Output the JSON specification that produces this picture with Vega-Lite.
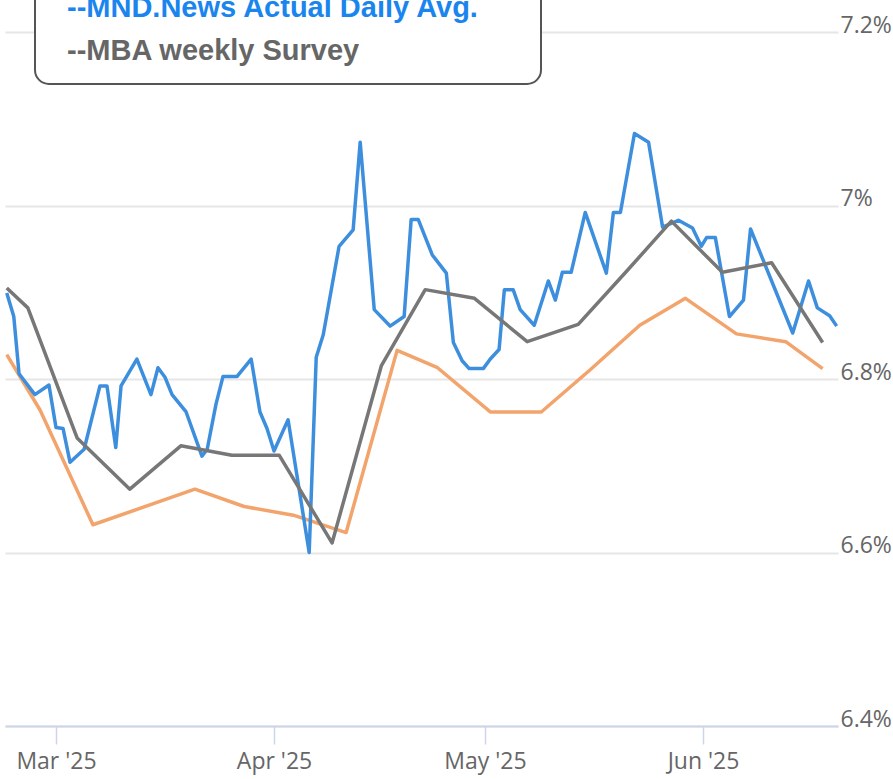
{
  "$schema": "https://vega.github.io/schema/vega-lite/v6.json",
  "width": 833,
  "height": 694,
  "autosize": "none",
  "padding": {"left": 5, "top": 32, "right": 55, "bottom": 53},
  "background": "white",
  "config": {"view": {"stroke": null}, "font": "Open Sans"},
  "data": {
    "values": [
      {"series": "Freddie Mac Weekly Survey", "date": "2025-02-22T00:00", "rate": 6.828},
      {"series": "Freddie Mac Weekly Survey", "date": "2025-02-26T18:00", "rate": 6.764},
      {"series": "Freddie Mac Weekly Survey", "date": "2025-03-06T06:00", "rate": 6.632},
      {"series": "Freddie Mac Weekly Survey", "date": "2025-03-20T18:00", "rate": 6.673},
      {"series": "Freddie Mac Weekly Survey", "date": "2025-03-27T18:00", "rate": 6.653},
      {"series": "Freddie Mac Weekly Survey", "date": "2025-04-03T18:00", "rate": 6.643},
      {"series": "Freddie Mac Weekly Survey", "date": "2025-04-11T06:00", "rate": 6.623},
      {"series": "Freddie Mac Weekly Survey", "date": "2025-04-18T12:00", "rate": 6.833},
      {"series": "Freddie Mac Weekly Survey", "date": "2025-04-24T06:00", "rate": 6.813},
      {"series": "Freddie Mac Weekly Survey", "date": "2025-05-01T18:00", "rate": 6.762},
      {"series": "Freddie Mac Weekly Survey", "date": "2025-05-09T00:00", "rate": 6.762},
      {"series": "Freddie Mac Weekly Survey", "date": "2025-05-16T00:00", "rate": 6.811},
      {"series": "Freddie Mac Weekly Survey", "date": "2025-05-23T00:00", "rate": 6.862},
      {"series": "Freddie Mac Weekly Survey", "date": "2025-05-29T12:00", "rate": 6.893},
      {"series": "Freddie Mac Weekly Survey", "date": "2025-06-05T18:00", "rate": 6.852},
      {"series": "Freddie Mac Weekly Survey", "date": "2025-06-12T18:00", "rate": 6.843},
      {"series": "Freddie Mac Weekly Survey", "date": "2025-06-18T00:00", "rate": 6.812},

      {"series": "MND.News Actual Daily Avg.", "date": "2025-02-22T00:00", "rate": 6.899},
      {"series": "MND.News Actual Daily Avg.", "date": "2025-02-23T00:00", "rate": 6.872},
      {"series": "MND.News Actual Daily Avg.", "date": "2025-02-23T18:00", "rate": 6.806},
      {"series": "MND.News Actual Daily Avg.", "date": "2025-02-26T00:00", "rate": 6.782},
      {"series": "MND.News Actual Daily Avg.", "date": "2025-02-28T00:00", "rate": 6.793},
      {"series": "MND.News Actual Daily Avg.", "date": "2025-03-01T00:00", "rate": 6.744},
      {"series": "MND.News Actual Daily Avg.", "date": "2025-03-02T00:00", "rate": 6.743},
      {"series": "MND.News Actual Daily Avg.", "date": "2025-03-03T00:00", "rate": 6.704},
      {"series": "MND.News Actual Daily Avg.", "date": "2025-03-05T00:00", "rate": 6.719},
      {"series": "MND.News Actual Daily Avg.", "date": "2025-03-07T06:00", "rate": 6.792},
      {"series": "MND.News Actual Daily Avg.", "date": "2025-03-08T06:00", "rate": 6.792},
      {"series": "MND.News Actual Daily Avg.", "date": "2025-03-09T12:00", "rate": 6.721},
      {"series": "MND.News Actual Daily Avg.", "date": "2025-03-10T06:00", "rate": 6.792},
      {"series": "MND.News Actual Daily Avg.", "date": "2025-03-12T12:00", "rate": 6.823},
      {"series": "MND.News Actual Daily Avg.", "date": "2025-03-14T12:00", "rate": 6.782},
      {"series": "MND.News Actual Daily Avg.", "date": "2025-03-15T12:00", "rate": 6.813},
      {"series": "MND.News Actual Daily Avg.", "date": "2025-03-16T12:00", "rate": 6.802},
      {"series": "MND.News Actual Daily Avg.", "date": "2025-03-17T12:00", "rate": 6.782},
      {"series": "MND.News Actual Daily Avg.", "date": "2025-03-19T12:00", "rate": 6.762},
      {"series": "MND.News Actual Daily Avg.", "date": "2025-03-21T18:00", "rate": 6.711},
      {"series": "MND.News Actual Daily Avg.", "date": "2025-03-22T12:00", "rate": 6.719},
      {"series": "MND.News Actual Daily Avg.", "date": "2025-03-23T18:00", "rate": 6.771},
      {"series": "MND.News Actual Daily Avg.", "date": "2025-03-24T18:00", "rate": 6.803},
      {"series": "MND.News Actual Daily Avg.", "date": "2025-03-26T18:00", "rate": 6.803},
      {"series": "MND.News Actual Daily Avg.", "date": "2025-03-28T18:00", "rate": 6.823},
      {"series": "MND.News Actual Daily Avg.", "date": "2025-03-30T00:00", "rate": 6.762},
      {"series": "MND.News Actual Daily Avg.", "date": "2025-03-31T00:00", "rate": 6.743},
      {"series": "MND.News Actual Daily Avg.", "date": "2025-04-01T00:00", "rate": 6.717},
      {"series": "MND.News Actual Daily Avg.", "date": "2025-04-03T00:00", "rate": 6.753},
      {"series": "MND.News Actual Daily Avg.", "date": "2025-04-06T00:00", "rate": 6.600},
      {"series": "MND.News Actual Daily Avg.", "date": "2025-04-07T00:00", "rate": 6.825},
      {"series": "MND.News Actual Daily Avg.", "date": "2025-04-08T00:00", "rate": 6.851},
      {"series": "MND.News Actual Daily Avg.", "date": "2025-04-10T06:00", "rate": 6.953},
      {"series": "MND.News Actual Daily Avg.", "date": "2025-04-12T06:00", "rate": 6.972},
      {"series": "MND.News Actual Daily Avg.", "date": "2025-04-13T06:00", "rate": 7.073},
      {"series": "MND.News Actual Daily Avg.", "date": "2025-04-15T06:00", "rate": 6.880},
      {"series": "MND.News Actual Daily Avg.", "date": "2025-04-17T12:00", "rate": 6.861},
      {"series": "MND.News Actual Daily Avg.", "date": "2025-04-19T12:00", "rate": 6.872},
      {"series": "MND.News Actual Daily Avg.", "date": "2025-04-20T12:00", "rate": 6.984},
      {"series": "MND.News Actual Daily Avg.", "date": "2025-04-21T12:00", "rate": 6.984},
      {"series": "MND.News Actual Daily Avg.", "date": "2025-04-23T12:00", "rate": 6.943},
      {"series": "MND.News Actual Daily Avg.", "date": "2025-04-25T12:00", "rate": 6.922},
      {"series": "MND.News Actual Daily Avg.", "date": "2025-04-26T12:00", "rate": 6.842},
      {"series": "MND.News Actual Daily Avg.", "date": "2025-04-27T18:00", "rate": 6.821},
      {"series": "MND.News Actual Daily Avg.", "date": "2025-04-28T18:00", "rate": 6.812},
      {"series": "MND.News Actual Daily Avg.", "date": "2025-04-30T18:00", "rate": 6.812},
      {"series": "MND.News Actual Daily Avg.", "date": "2025-05-01T18:00", "rate": 6.823},
      {"series": "MND.News Actual Daily Avg.", "date": "2025-05-03T00:00", "rate": 6.834},
      {"series": "MND.News Actual Daily Avg.", "date": "2025-05-03T18:00", "rate": 6.903},
      {"series": "MND.News Actual Daily Avg.", "date": "2025-05-05T00:00", "rate": 6.903},
      {"series": "MND.News Actual Daily Avg.", "date": "2025-05-06T00:00", "rate": 6.880},
      {"series": "MND.News Actual Daily Avg.", "date": "2025-05-08T00:00", "rate": 6.862},
      {"series": "MND.News Actual Daily Avg.", "date": "2025-05-10T00:00", "rate": 6.913},
      {"series": "MND.News Actual Daily Avg.", "date": "2025-05-11T00:00", "rate": 6.891},
      {"series": "MND.News Actual Daily Avg.", "date": "2025-05-12T00:00", "rate": 6.923},
      {"series": "MND.News Actual Daily Avg.", "date": "2025-05-13T06:00", "rate": 6.923},
      {"series": "MND.News Actual Daily Avg.", "date": "2025-05-15T06:00", "rate": 6.992},
      {"series": "MND.News Actual Daily Avg.", "date": "2025-05-18T06:00", "rate": 6.922},
      {"series": "MND.News Actual Daily Avg.", "date": "2025-05-19T06:00", "rate": 6.992},
      {"series": "MND.News Actual Daily Avg.", "date": "2025-05-20T06:00", "rate": 6.992},
      {"series": "MND.News Actual Daily Avg.", "date": "2025-05-22T06:00", "rate": 7.083},
      {"series": "MND.News Actual Daily Avg.", "date": "2025-05-24T06:00", "rate": 7.073},
      {"series": "MND.News Actual Daily Avg.", "date": "2025-05-26T06:00", "rate": 6.975},
      {"series": "MND.News Actual Daily Avg.", "date": "2025-05-28T12:00", "rate": 6.983},
      {"series": "MND.News Actual Daily Avg.", "date": "2025-05-30T12:00", "rate": 6.974},
      {"series": "MND.News Actual Daily Avg.", "date": "2025-05-31T18:00", "rate": 6.953},
      {"series": "MND.News Actual Daily Avg.", "date": "2025-06-01T12:00", "rate": 6.963},
      {"series": "MND.News Actual Daily Avg.", "date": "2025-06-02T18:00", "rate": 6.963},
      {"series": "MND.News Actual Daily Avg.", "date": "2025-06-04T18:00", "rate": 6.872},
      {"series": "MND.News Actual Daily Avg.", "date": "2025-06-06T18:00", "rate": 6.891},
      {"series": "MND.News Actual Daily Avg.", "date": "2025-06-07T18:00", "rate": 6.973},
      {"series": "MND.News Actual Daily Avg.", "date": "2025-06-13T18:00", "rate": 6.853},
      {"series": "MND.News Actual Daily Avg.", "date": "2025-06-16T00:00", "rate": 6.913},
      {"series": "MND.News Actual Daily Avg.", "date": "2025-06-17T06:00", "rate": 6.882},
      {"series": "MND.News Actual Daily Avg.", "date": "2025-06-19T00:00", "rate": 6.873},
      {"series": "MND.News Actual Daily Avg.", "date": "2025-06-20T00:00", "rate": 6.861},

      {"series": "MBA weekly Survey", "date": "2025-02-22T00:00", "rate": 6.905},
      {"series": "MBA weekly Survey", "date": "2025-02-25T00:00", "rate": 6.882},
      {"series": "MBA weekly Survey", "date": "2025-03-04T00:00", "rate": 6.732},
      {"series": "MBA weekly Survey", "date": "2025-03-11T12:00", "rate": 6.673},
      {"series": "MBA weekly Survey", "date": "2025-03-18T18:00", "rate": 6.723},
      {"series": "MBA weekly Survey", "date": "2025-03-26T00:00", "rate": 6.712},
      {"series": "MBA weekly Survey", "date": "2025-04-01T18:00", "rate": 6.712},
      {"series": "MBA weekly Survey", "date": "2025-04-09T06:00", "rate": 6.611},
      {"series": "MBA weekly Survey", "date": "2025-04-16T06:00", "rate": 6.815},
      {"series": "MBA weekly Survey", "date": "2025-04-22T12:00", "rate": 6.903},
      {"series": "MBA weekly Survey", "date": "2025-04-29T12:00", "rate": 6.893},
      {"series": "MBA weekly Survey", "date": "2025-05-07T00:00", "rate": 6.843},
      {"series": "MBA weekly Survey", "date": "2025-05-14T06:00", "rate": 6.863},
      {"series": "MBA weekly Survey", "date": "2025-05-21T00:00", "rate": 6.923},
      {"series": "MBA weekly Survey", "date": "2025-05-27T12:00", "rate": 6.982},
      {"series": "MBA weekly Survey", "date": "2025-06-03T18:00", "rate": 6.923},
      {"series": "MBA weekly Survey", "date": "2025-06-10T18:00", "rate": 6.934},
      {"series": "MBA weekly Survey", "date": "2025-06-18T00:00", "rate": 6.842}
    ]
  },
  "mark": {"type": "line", "strokeWidth": 3.5, "strokeJoin": "round", "clip": true},
  "encoding": {
    "x": {
      "field": "date",
      "type": "temporal",
      "scale": {
        "domain": [
          {"year": 2025, "month": 2, "date": 21, "hours": 18},
          {"year": 2025, "month": 6, "date": 20, "hours": 4, "minutes": 30}
        ]
      },
      "axis": {
        "title": null,
        "tickCount": {"interval": "month", "step": 1},
        "format": "%b '%y",
        "labelFont": "Open Sans",
        "labelFontSize": 23,
        "labelColor": "#666666",
        "labelPadding": 6,
        "labelFlush": false,
        "labelOverlap": false,
        "tickColor": "#ccd6eb",
        "tickSize": 18,
        "tickWidth": 1.5,
        "domainColor": "#ccd6eb",
        "domainWidth": 2,
        "grid": false
      }
    },
    "y": {
      "field": "rate",
      "type": "quantitative",
      "scale": {"domain": [6.4, 7.2], "nice": false, "zero": false},
      "axis": {
        "title": null,
        "orient": "right",
        "values": [6.4, 6.6, 6.8, 7, 7.2],
        "labelExpr": "format(datum.value, '.2~g') + '%'",
        "labelFont": "Open Sans",
        "labelFontSize": 23,
        "labelColor": "#666666",
        "labelAlign": "left",
        "labelBaseline": "alphabetic",
        "labelPadding": 2,
        "labelFlush": false,
        "labelOverlap": false,
        "domain": false,
        "ticks": false,
        "grid": true,
        "gridColor": "#e6e6e6",
        "gridWidth": 2
      }
    },
    "color": {
      "field": "series",
      "type": "nominal",
      "scale": {
        "domain": ["Freddie Mac Weekly Survey", "MND.News Actual Daily Avg.", "MBA weekly Survey"],
        "range": ["#f2a46c", "#3d8fde", "#777777"]
      },
      "legend": {
        "orient": "none",
        "legendX": 30,
        "legendY": -57,
        "values": ["MND.News Actual Daily Avg.", "MBA weekly Survey"],
        "title": null,
        "labelExpr": "'--' + datum.label + '\u2800\u2800'",
        "labelFont": "Liberation Sans",
        "labelFontWeight": "bold",
        "labelFontSize": 29,
        "labelLimit": 800,
        "labelOffset": -15,
        "symbolSize": 0,
        "symbolOpacity": 0,
        "symbolStrokeWidth": 0,
        "rowPadding": 13,
        "padding": 18,
        "cornerRadius": 14,
        "strokeColor": "#555555",
        "fillColor": "white",
        "encode": {
          "labels": {
            "update": {
              "fill": {"signal": "datum.value === 'MBA weekly Survey' ? '#666666' : '#1a85ee'"}
            }
          },
          "legend": {
            "update": {
              "strokeWidth": {"value": 2}
            }
          }
        }
      }
    }
  }
}
